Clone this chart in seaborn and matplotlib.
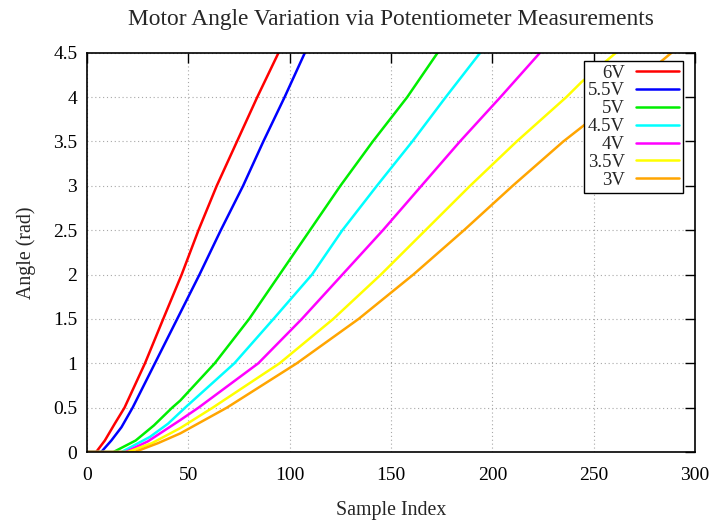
import matplotlib
matplotlib.use("Agg")
import matplotlib.pyplot as plt
from matplotlib.ticker import FuncFormatter, MultipleLocator
import seaborn as sns
import numpy as np
import pandas as pd

# points (sample index, angle in rad)
x_6v = [0, 4.5, 8.8, 13.7, 18.5, 28.6, 37.6, 46.7, 55, 64, 74, 84, 94.5]
y_6v = [0, 0, 0.13, 0.32, 0.5, 1.0, 1.5, 2.0, 2.5, 3.0, 3.5, 4.0, 4.5]

x_55v = [0, 7, 12, 17, 22.5, 33.5, 44.5, 55.5, 66, 77, 87, 97.5, 107.5]
y_55v = [0, 0, 0.13, 0.28, 0.5, 1.0, 1.5, 2.0, 2.5, 3.0, 3.5, 4.0, 4.5]

x_5v = [0, 13, 24, 33, 42, 46, 63, 80, 95, 110, 125, 141, 158, 173]
y_5v = [0, 0, 0.13, 0.3, 0.5, 0.58, 1.0, 1.5, 2.0, 2.5, 3.0, 3.5, 4.0, 4.5]

x_45v = [0, 17, 31, 40, 48.4, 72.7, 92, 111, 126, 143, 160.5, 177, 194]
y_45v = [0, 0, 0.17, 0.32, 0.5, 1.0, 1.5, 2.0, 2.5, 3.0, 3.5, 4.0, 4.5]

x_4v = [0, 19, 30, 46, 55, 84.5, 106, 126, 146, 165, 184, 204, 223.5]
y_4v = [0, 0, 0.12, 0.36, 0.5, 1.0, 1.5, 2.0, 2.5, 3.0, 3.5, 4.0, 4.5]

x_35v = [0, 20, 32, 46, 62, 95, 121.5, 145, 167, 189, 212, 236.5, 244, 261]
y_35v = [0, 0, 0.1, 0.27, 0.5, 1.0, 1.5, 2.0, 2.5, 3.0, 3.5, 4.0, 4.17, 4.5]

x_3v = [0, 23.5, 35, 46, 69, 103.5, 134, 161, 186, 210, 235, 249, 288.4]
y_3v = [0, 0, 0.1, 0.21, 0.5, 1.0, 1.5, 2.0, 2.5, 3.0, 3.5, 3.75, 4.5]

labels = ["6V", "5.5V", "5V", "4.5V", "4V", "3.5V", "3V"]
xs = [x_6v, x_55v, x_5v, x_45v, x_4v, x_35v, x_3v]
ys = [y_6v, y_55v, y_5v, y_45v, y_4v, y_35v, y_3v]
colors = ["#ff0000", "#0000ff", "#00ee00", "#00ffff", "#ff00ff", "#ffff00", "#ffa500"]

frames = []
for lab, xv, yv in zip(labels, xs, ys):
    frames.append(pd.DataFrame({"Sample Index": xv, "Angle (rad)": yv, "Voltage": lab}))
df = pd.concat(frames, ignore_index=True)

sns.set_theme(style="white")
plt.rcParams["font.family"] = ["Liberation Serif", "DejaVu Serif"]

fig = plt.figure(figsize=(7.12, 5.22), dpi=100)
ax = fig.add_axes([0.1222, 0.134, 0.854, 0.765])

sns.lineplot(data=df, x="Sample Index", y="Angle (rad)", hue="Voltage",
             hue_order=labels, palette=colors, estimator=None, sort=False,
             linewidth=1.8, ax=ax)

ax.set_xlim(0, 300)
ax.set_ylim(0, 4.5)
ax.xaxis.set_major_locator(MultipleLocator(50))
ax.yaxis.set_major_locator(MultipleLocator(0.5))
ax.yaxis.set_major_formatter(FuncFormatter(lambda v, p: "%g" % v))

ax.grid(True, color="#a8a8a8", linestyle=(0, (1, 2.5)), linewidth=0.8)
ax.tick_params(direction="in", length=7, width=1, top=True, right=True,
               labelsize=14, colors="black")
ax.tick_params(axis="x", pad=11)
ax.tick_params(axis="y", pad=7)
for sp in ax.spines.values():
    sp.set_color("black")
    sp.set_linewidth(1.2)

ax.set_title("Motor Angle Variation via Potentiometer Measurements",
             fontsize=16.8, pad=20)
ax.set_xlabel("Sample Index", fontsize=14.3, labelpad=12)
ax.set_ylabel("Angle (rad)", fontsize=14.3, labelpad=12)

handles, labs = ax.get_legend_handles_labels()
leg = ax.legend(handles, labs, loc="upper right", bbox_to_anchor=(0.98, 0.98),
                markerfirst=False, fontsize=13.5, frameon=True, fancybox=False,
                framealpha=1, edgecolor="black", handlelength=2.3,
                handletextpad=0.6, labelspacing=0.04, borderpad=0.2,
                borderaxespad=0)
leg.get_frame().set_linewidth(1.0)

fig.savefig("out.png", dpi=100)
